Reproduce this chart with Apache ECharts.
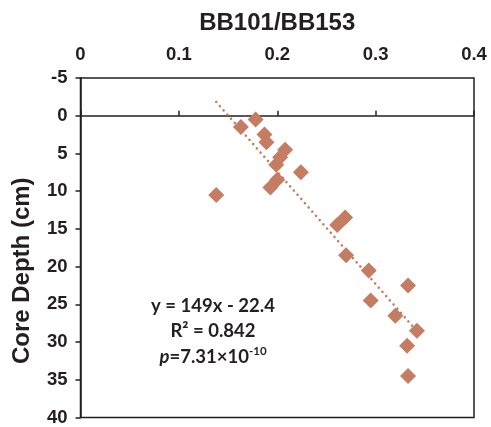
<!DOCTYPE html>
<html>
<head>
<meta charset="utf-8">
<script src="https://cdn.jsdelivr.net/npm/echarts@6/dist/echarts.min.js"></script>
<style>
  html, body { margin: 0; padding: 0; background: #fff; }
  #chart { width: 491px; height: 427px; }
</style>
</head>
<body>
<div id="chart"></div>
<script>
// BB101/BB153 ratio against core depth
const ratio = [0.178, 0.163, 0.187, 0.189, 0.208, 0.203, 0.199, 0.224, 0.200, 0.193, 0.138,
               0.269, 0.261, 0.270, 0.293, 0.333, 0.295, 0.320, 0.342, 0.332, 0.333];
const depth = [0.5, 1.5, 2.5, 3.5, 4.5, 5.5, 6.5, 7.5, 8.5, 9.5, 10.5,
               13.5, 14.5, 18.5, 20.5, 22.5, 24.5, 26.5, 28.5, 30.5, 34.5];

// Linear fit shown on the chart: depth = slope * ratio + intercept
const slope = 149;
const intercept = -22.4;
const rSquared = '0.842';
const pValue = { mantissa: '7.31', exponent: '-10' };

const xTicks = [0, 0.4, 0.1];   // min, max, interval
const yTicks = [-5, 40, 5];

const ink = '#231F20';
const markColor = '#C47D62';

const points = ratio.map((r, i) => [r, depth[i]]);
const xMin = Math.min(...ratio), xMax = Math.max(...ratio);
const fitLine = [[xMin, slope * xMin + intercept], [xMax, slope * xMax + intercept]];

const chart = echarts.init(document.getElementById('chart'));
chart.setOption({
  animation: false,
  grid: {
    left: 80.5, top: 78, right: 17, bottom: 6,
    show: true, borderColor: ink, borderWidth: 1.5, backgroundColor: 'transparent'
  },
  xAxis: {
    type: 'value', position: 'top',
    min: xTicks[0], max: xTicks[1], interval: xTicks[2],
    name: 'BB101/BB153', nameLocation: 'middle', nameGap: 43,
    nameTextStyle: { fontFamily: 'Liberation Sans', fontWeight: 'bold', fontSize: 24, color: ink },
    axisLine: { show: true, lineStyle: { color: ink, width: 1.5 } },
    axisTick: { show: true, inside: false, length: 5, lineStyle: { color: ink, width: 1.5 } },
    axisLabel: { fontFamily: 'Liberation Sans', fontWeight: 'bold', fontSize: 18.5, color: ink, margin: 14 },
    splitLine: { show: false }
  },
  yAxis: {
    type: 'value', inverse: true,
    min: yTicks[0], max: yTicks[1], interval: yTicks[2],
    name: 'Core Depth (cm)', nameLocation: 'middle', nameGap: 46, nameRotate: 90,
    nameTextStyle: { fontFamily: 'Liberation Sans', fontWeight: 'bold', fontSize: 24, color: ink,
                     padding: [0, 46, 0, 0] },
    axisLine: { show: true, lineStyle: { color: ink, width: 1.5 } },
    axisTick: { show: true, inside: false, length: 5, lineStyle: { color: ink, width: 1.5 } },
    axisLabel: { fontFamily: 'Liberation Sans', fontWeight: 'bold', fontSize: 18.5, color: ink, margin: 13 },
    splitLine: { show: false }
  },
  series: [
    {
      type: 'line', data: fitLine, symbol: 'none', silent: true, z: 1,
      lineStyle: { color: markColor, width: 2.6, type: [0.01, 5.6], cap: 'round' }
    },
    {
      type: 'scatter', data: points, symbol: 'diamond', symbolSize: 16, z: 2,
      itemStyle: { color: markColor, opacity: 1 }
    }
  ],
  graphic: [
    {
      type: 'text', x: 213, y: 306,
      style: {
        text: 'y = ' + slope + 'x - ' + Math.abs(intercept),
        fontFamily: 'Lato', fontWeight: 'bold', fontSize: 18.5, fill: ink,
        align: 'center', verticalAlign: 'middle'
      }
    },
    {
      type: 'text', x: 213, y: 331,
      style: {
        text: 'R\u00B2 = ' + rSquared,
        fontFamily: 'Lato', fontWeight: 'bold', fontSize: 18.5, fill: ink,
        align: 'center', verticalAlign: 'middle'
      }
    },
    {
      type: 'text', x: 213, y: 356,
      style: {
        text: '{i|p}{n|=' + pValue.mantissa + '\u00D710}{s|' + pValue.exponent + '}',
        align: 'center', verticalAlign: 'middle',
        rich: {
          i: { fontFamily: 'Lato', fontStyle: 'italic', fontWeight: 'bold', fontSize: 18.5, fill: ink, lineHeight: 22, verticalAlign: 'bottom' },
          n: { fontFamily: 'Lato', fontWeight: 'bold', fontSize: 18.5, fill: ink, lineHeight: 22, verticalAlign: 'bottom' },
          s: { fontFamily: 'Lato', fontWeight: 'bold', fontSize: 11.5, fill: ink, lineHeight: 22, verticalAlign: 'top' }
        }
      }
    }
  ]
});
</script>
</body>
</html>
